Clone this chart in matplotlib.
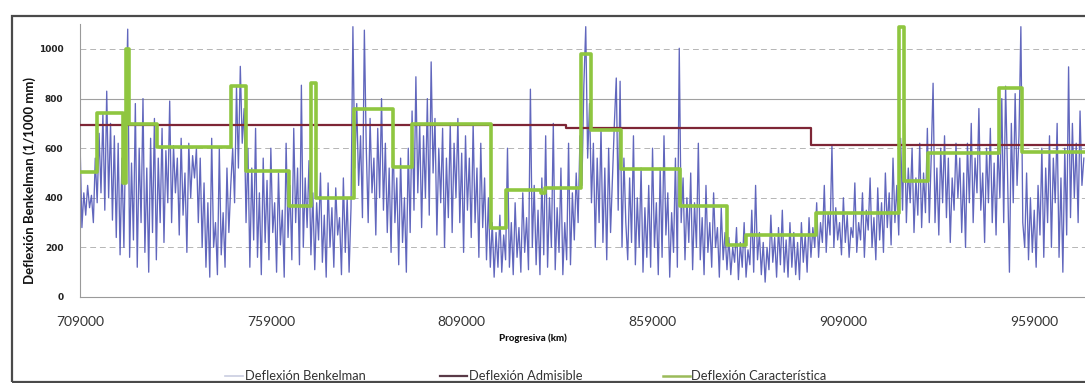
import numpy as np
import matplotlib.pyplot as plt
from matplotlib.lines import Line2D
from matplotlib.patches import Rectangle

# ---------- data ----------
# Deflexion Benkelman, one reading every 500 m starting at 709000
benkelman = [
    630, 280, 420, 330, 450, 360, 410, 300, 560, 380, 660, 420, 740, 350, 830, 400, 700, 310, 650, 240,
    620, 170, 560, 200, 700, 1080, 160, 540, 230, 780, 120, 600, 300, 800, 180, 520, 100, 640, 260, 720,
    150, 560, 300, 680, 220, 590, 380, 790, 300, 610, 420, 560, 250, 640, 330, 500, 180, 620, 400, 570,
    480, 600, 300, 560, 200, 460, 120, 380, 80, 640, 200, 300, 90, 600, 170, 340, 120, 520, 260, 450,
    600, 380, 850, 520, 930, 620, 760, 300, 600, 120, 520, 230, 680, 160, 420, 90, 560, 220, 470, 150,
    600, 260, 380, 100, 500, 210, 350, 80, 620, 240, 450, 150, 680, 300, 520, 130, 854, 200, 480, 280,
    550, 170, 420, 110, 380, 230, 500, 140, 330, 80, 460, 200, 360, 120, 440, 250, 320, 90, 480, 180,
    400, 100, 360, 1090, 520, 780, 450, 650, 320, 1076, 600, 300, 720, 420, 560, 250, 680, 400, 800, 350,
    620, 260, 520, 180, 650, 300, 480, 130, 560, 220, 400, 100, 600, 260, 750, 350, 888, 420, 700, 280,
    650, 400, 800, 330, 948, 500, 720, 250, 600, 380, 680, 200, 560, 320, 700, 260, 620, 400, 720, 300,
    580, 180, 650, 350, 560, 240, 700, 300, 520, 160, 620, 280, 480, 150, 400, 120, 300, 80, 260, 120,
    330, 100, 250, 150, 600, 120, 300, 90, 380, 160, 280, 100, 420, 180, 320, 110, 838, 200, 450, 130,
    350, 90, 480, 170, 650, 120, 400, 200, 700, 110, 360, 180, 520, 90, 300, 150, 620, 130, 420, 230,
    500, 300, 650, 450, 850, 1090, 560, 780, 380, 620, 200, 560, 300, 680, 220, 520, 150, 600, 260, 480,
    700, 883, 350, 870, 200, 560, 300, 150, 480, 220, 650, 130, 400, 200, 520, 100, 360, 160, 450, 120,
    600, 200, 380, 90, 520, 160, 650, 250, 420, 80, 340, 180, 560, 120, 1003, 300, 480, 150, 400, 220,
    500, 110, 380, 200, 620, 150, 320, 90, 450, 180, 300, 120, 420, 200, 280, 80, 360, 150, 260, 110,
    240, 90, 200, 140, 280, 70, 220, 120, 300, 80, 190, 130, 350, 100, 450, 150, 260, 90, 220, 60,
    200, 110, 330, 140, 240, 80, 280, 130, 350, 100, 230, 80, 300, 120, 260, 90, 220, 70, 300, 140,
    250, 100, 320, 160, 280, 200, 380, 160, 300, 220, 450, 180, 340, 250, 610, 200, 360, 230, 300, 170,
    400, 220, 330, 160, 280, 240, 460, 180, 300, 230, 420, 160, 350, 270, 480, 200, 320, 150, 440, 230,
    380, 180, 500, 280, 420, 210, 560, 300, 450, 250, 640, 350, 700, 300, 520, 380, 600, 260, 480, 330,
    620, 280, 500, 340, 680, 300, 560, 862, 300, 520, 250, 600, 380, 650, 320, 560, 220, 480, 350, 620,
    400, 560, 260, 500, 200, 620, 380, 700, 300, 560, 420, 760, 350, 500, 220, 600, 380, 680, 300, 540,
    250, 620, 400, 800, 300, 850, 500, 100, 700, 380, 820, 450, 650, 1090, 300, 200, 500, 150, 400, 180,
    350, 120, 450, 250, 600, 160, 520, 300, 650, 200, 560, 380, 700, 160, 480, 100, 600, 250, 928, 320,
    700, 400, 620, 300, 750, 450, 560,
]
benkelman_start = 709000
benkelman_step = 500

# Deflexion Admisible (step line)
admisible_x = [709000, 836200, 900400, 972300]
admisible_y = [693, 680, 612, 612]

# Deflexion Caracteristica (step line)
caract_x = [709000, 713400, 720300, 721000, 721900, 729100, 748600, 752400, 763700,
            769600, 770700, 780900, 791000, 796100, 816600, 820700, 829700, 830700,
            840200, 843000, 850700, 866200, 878400, 883600, 901900, 923700, 924800,
            931100, 949800, 955700, 972300]
caract_y = [505, 743, 460, 1000, 697, 604, 852, 509, 368,
            864, 398, 757, 525, 697, 277, 430, 420, 440,
            979, 673, 518, 368, 210, 250, 337, 1090, 469,
            579, 843, 586, 586]

x_ticks = [709000, 759000, 809000, 859000, 909000, 959000]
y_ticks = [0, 200, 400, 600, 800, 1000]

legend_labels = ["Deflexión Benkelman", "Deflexión Admisible", "Deflexión Característica"]

# ---------- figure ----------
W, H = 1085, 383
fig = plt.figure(figsize=(W / 100, H / 100), dpi=100)
fig.patch.set_facecolor("white")

ax = fig.add_axes([80 / W, (H - 297) / H, (W - 80) / W, 272.8 / H])

bx = benkelman_start + benkelman_step * np.arange(len(benkelman))
ax.plot(bx, benkelman, color="#5056b6", lw=0.95, alpha=0.9, zorder=2)
ax.plot(admisible_x, admisible_y, drawstyle="steps-post", color="#7e2636", lw=1.6, zorder=3)
ax.plot(caract_x, caract_y, drawstyle="steps-post", color="#8fc640", lw=2.6, zorder=4)

ax.set_xlim(709000, 972300)
ax.set_ylim(0, 1100)
ax.set_xticks(x_ticks)
ax.set_xticklabels([str(t) for t in x_ticks], family="Lato", fontsize=10)
ax.set_yticks(y_ticks)
ax.set_yticklabels([str(t) for t in y_ticks], family="DejaVu Sans", fontsize=6.5,
                   fontweight="bold")
ax.tick_params(axis="x", length=0, pad=14, colors="#333333")
ax.tick_params(axis="y", length=0, pad=12, colors="#222222")

for y in [200, 400, 600, 1000]:
    ax.axhline(y, color="#b5b5b5", lw=0.7, ls=(0, (6, 4)), zorder=1)
ax.axhline(800, color="#a0a0a0", lw=0.8, zorder=1)

for side in ["top", "right"]:
    ax.spines[side].set_visible(False)
ax.spines["left"].set_color("#9a9a9a")
ax.spines["bottom"].set_color("#9a9a9a")
ax.spines["left"].set_linewidth(0.8)
ax.spines["bottom"].set_linewidth(0.8)

fig.text(30 / W, (H - 180) / H, "Deflexión Benkelman (1/1000 mm)", rotation=90,
         ha="center", va="center", family="Lato", fontweight="bold", fontsize=9.5,
         color="#111111")
fig.text(533 / W, (H - 338) / H, "Progresiva (km)", ha="center", va="center",
         family="Lato", fontweight="black", fontsize=7, color="#111111")

# ---------- legend (drawn by hand to match spacing) ----------
leg_y = (H - 376) / H
leg_items = [
    (225, 243, 245, "#c9cde0", 1.2),
    (440, 467, 469, "#5a3a48", 1.6),
    (663, 690, 691, "#9bbb59", 1.8),
]
for (x0, x1, xt, c, lw), lab in zip(leg_items, legend_labels):
    fig.add_artist(Line2D([x0 / W, x1 / W], [leg_y, leg_y], color=c, lw=lw,
                          transform=fig.transFigure))
    fig.text(xt / W, leg_y, lab, ha="left", va="center", family="Lato",
             fontsize=9.3, color="#333333")

# outer chart frame
fig.add_artist(Rectangle((12 / W, 1 / H), 1.2, (H - 17) / H, fill=False,
                         edgecolor="#4a4a4a", lw=1.6, transform=fig.transFigure,
                         clip_on=False))

fig.savefig("out.png", dpi=100)
